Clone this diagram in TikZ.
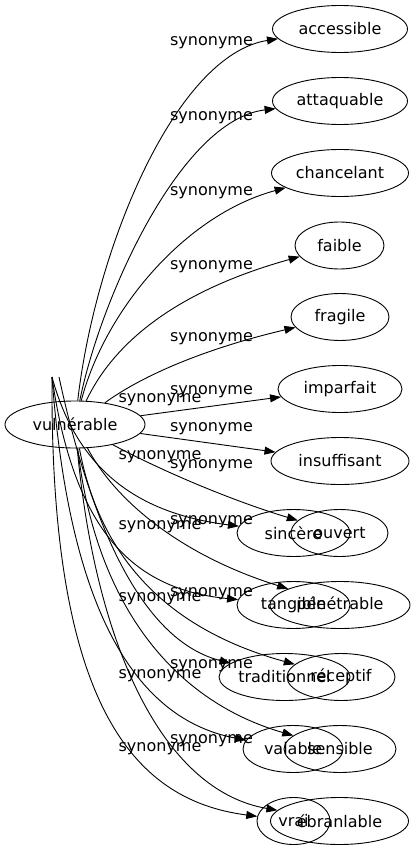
\documentclass[tikz,border=0pt]{standalone}
\usepackage{fontspec}
\setmainfont{DejaVu Sans}
\usetikzlibrary{shapes.geometric}
\usetikzlibrary{arrows.meta}

\begin{document}
\begin{tikzpicture}[
word/.style={ellipse, draw=black, line width=0.9pt, inner sep=0pt, minimum height=47pt, font=\fontsize{16}{19}\selectfont},
syn/.style={inner sep=0pt, font=\fontsize{16}{19}\selectfont},
rel/.style={line width=0.9pt, color=black, -{Triangle[length=11pt,width=8pt]}}]
\useasboundingbox (0pt,0pt) rectangle (416pt,-851pt);
\node (0) [word, minimum width=140pt] at (75.0pt, -424.5pt) {vulnérable};
\node (1) [word, minimum width=135pt] at (340.0pt, -29.0pt) {accessible};
\node (2) [word, minimum width=135pt] at (340.0pt, -101.0pt) {attaquable};
\node (3) [word, minimum width=137pt] at (340.0pt, -173.0pt) {chancelant};
\node (4) [word, minimum width=89pt] at (339.5pt, -245.5pt) {faible};
\node (5) [word, minimum width=98pt] at (340.0pt, -317.0pt) {fragile};
\node (6) [word, minimum width=124pt] at (340.0pt, -389.0pt) {imparfait};
\node (7) [word, minimum width=138pt] at (340.0pt, -461.0pt) {insuffisant};
\node (8) [word, minimum width=97pt] at (339.5pt, -533.0pt) {ouvert};
\node (9) [word, minimum width=140pt] at (340.0pt, -605.0pt) {pénétrable};
\node (10) [word, minimum width=108pt] at (341.0pt, -677.0pt) {réceptif};
\node (11) [word, minimum width=112pt] at (340.0pt, -749.0pt) {sensible};
\node (12) [word, minimum width=138pt] at (339.5pt, -821.0pt) {ébranlable};
\node (13) [word, minimum width=113pt] at (293.5pt, -533.0pt) {sincère};
\node (14) [word, minimum width=113pt] at (293.5pt, -605.0pt) {tangible};
\node (15) [word, minimum width=131pt] at (284.5pt, -677.0pt) {traditionnel};
\node (16) [word, minimum width=100pt] at (293.0pt, -749.0pt) {valable};
\node (17) [word, minimum width=73pt] at (293.5pt, -821.0pt) {vrai};
\coordinate (r) at (52.0pt, -377.0pt);
\coordinate (rb) at (59.0pt, -377.0pt);
% edge labels
\node (s1) [syn] at (211.5pt, -43.0pt) {synonyme};
\node (s2) [syn] at (211.5pt, -118.0pt) {synonyme};
\node (s3) [syn] at (211.5pt, -193.0pt) {synonyme};
\node (s4) [syn] at (211.5pt, -267.0pt) {synonyme};
\node (s5) [syn] at (211.5pt, -339.0pt) {synonyme};
\node (s6) [syn] at (211.5pt, -392.0pt) {synonyme};
\node (s7) [syn] at (211.5pt, -429.0pt) {synonyme};
\node (s8) [syn] at (211.5pt, -466.0pt) {synonyme};
\node (s9) [syn] at (211.5pt, -522.0pt) {synonyme};
\node (s10) [syn] at (211.5pt, -594.0pt) {synonyme};
\node (s11) [syn] at (211.5pt, -666.0pt) {synonyme};
\node (s12) [syn] at (211.5pt, -741.0pt) {synonyme};
\node (s13) [syn] at (160.0pt, -400.0pt) {synonyme};
\node (s14) [syn] at (160.0pt, -457.0pt) {synonyme};
\node (s15) [syn] at (160.0pt, -527.0pt) {synonyme};
\node (s16) [syn] at (160.0pt, -599.0pt) {synonyme};
\node (s17) [syn] at (160.0pt, -676.0pt) {synonyme};
\node (s18) [syn] at (160.0pt, -749.0pt) {synonyme};
% edges
\draw [rel] (0) .. controls (95pt, -250pt) and (175pt, -55pt) .. (1);
\draw [rel] (0) .. controls (100pt, -300pt) and (180pt, -120pt) .. (2);
\draw [rel] (0) .. controls (105pt, -310pt) and (185pt, -215pt) .. (3);
\draw [rel] (0) .. controls (115pt, -340pt) and (180pt, -290pt) .. (4);
\draw [rel] (0) .. controls (150pt, -370pt) and (220pt, -345pt) .. (5);
\draw [rel] (0) -- (6);
\draw [rel] (0) -- (7);
\draw [rel] (0) .. controls (160pt, -470pt) and (230pt, -500pt) .. (8);
\draw [rel] (0) .. controls (115pt, -500pt) and (180pt, -555pt) .. (9);
\draw [rel] (0) .. controls (100pt, -560pt) and (170pt, -630pt) .. (10);
\draw [rel] (0) .. controls (95pt, -600pt) and (170pt, -700pt) .. (11);
\draw [rel] (0) .. controls (95pt, -640pt) and (160pt, -790pt) .. (12);
\draw [rel] (r) .. controls (80pt, -480pt) and (150pt, -515pt) .. (13);
\draw [rel] (r) .. controls (75pt, -540pt) and (140pt, -590pt) .. (14);
\draw [rel] (rb) .. controls (90pt, -520pt) and (140pt, -640pt) .. (15);
\draw [rel] (r) .. controls (70pt, -620pt) and (140pt, -720pt) .. (16);
\draw [rel] (r) .. controls (50pt, -700pt) and (130pt, -800pt) .. (17);
\end{tikzpicture}
\end{document}
